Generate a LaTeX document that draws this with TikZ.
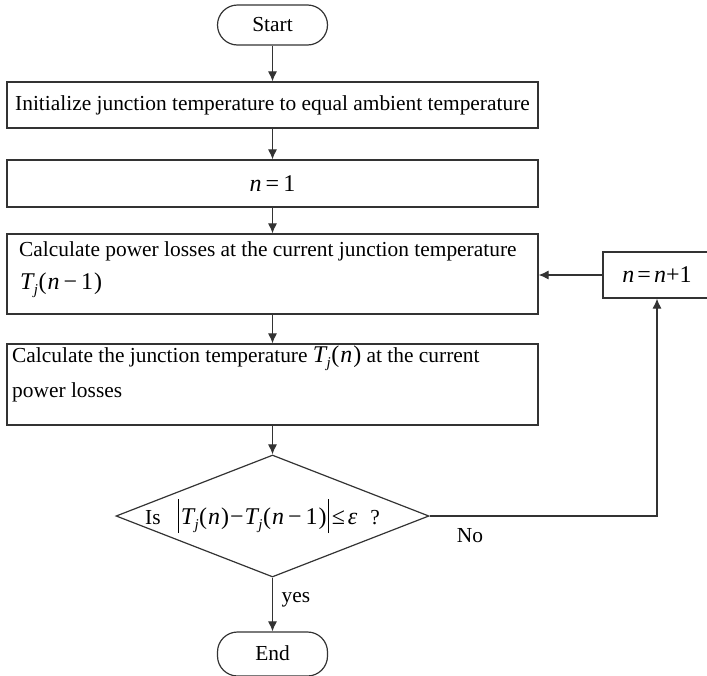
\documentclass[tikz,border=0pt]{standalone}
\usepackage{fontspec}
\setmainfont{Liberation Serif}
\usetikzlibrary{arrows.meta,shapes.geometric}
\definecolor{ln}{HTML}{333333}
\newcommand\mf{\fontsize{24}{25}\selectfont}
\newcommand\mv[1]{{\mf\textit{#1}}}
\newcommand\Tj{{\mf\textit{T}\kern-1pt\raisebox{-5pt}{\fontsize{15}{15}\selectfont\textit{j}}\kern0.5pt}}
\newcommand\mmin{{\mf\kern4pt−\kern4pt}}
\newcommand\po{{\mf(\kern1pt}}
\newcommand\pc{{\mf\kern1pt)}}
\newcommand\vbr{\rule[-9pt]{1.1pt}{34pt}}
\begin{document}
\begin{tikzpicture}[x=1pt,y=-1pt,font=\fontsize{21.4}{25}\selectfont,
  box/.style={draw=ln,line width=1.2pt,minimum width=531pt,inner sep=0pt},
  term/.style={draw=ln,line width=1.2pt,rounded corners=20pt,minimum width=110pt,minimum height=40pt,inner sep=0pt},
  arr/.style={draw=ln,line width=1.1pt,-{Latex[length=10pt,width=9pt]}},
  lbl/.style={inner sep=0pt,anchor=west}]
\useasboundingbox (0,0) rectangle (707,675);
\node[term] (start) at (272.5,25) {Start};
\node[box,minimum height=46pt] (b1) at (272.5,105) {Initialize junction temperature to equal ambient temperature};
\node[box,minimum height=47pt] (b2) at (272.5,183.5) {\mv{n}{\mf\kern4pt=\kern4pt1}};
\node[box,minimum height=80pt] (b3) at (272.5,274) {};
\node[lbl] (t3a) at (19,251) {Calculate power losses at the current junction temperature};
\node[lbl] (t3b) at (20,285) {\Tj\po\mv{n}\mmin{\mf1}\pc};
\node[box,minimum height=81pt] (b4) at (272.5,384.5) {};
\node[lbl] (t4a) at (12,358) {Calculate the junction temperature \Tj\po\mv{n}\pc{} at the current};
\node[lbl] (t4b) at (12,392) {power losses};
\node[draw=ln,line width=1.2pt,diamond,minimum width=313pt,minimum height=122pt,inner sep=0pt] (dec) at (272.5,516) {};
\node[lbl] (dtext) at (145,516) {Is\hspace{17pt}\vbr\kern2pt\Tj\po\mv{n}\pc{\mf\kern1pt−\kern1pt}\Tj\po\mv{n}\mmin{\mf1}\pc\kern1pt\vbr\kern3pt{\mf≤}\kern3pt\mv{ε}\hspace{13pt}?};
\node[box,minimum width=108pt,minimum height=46pt] (nb) at (657,275) {\mv{n}{\mf\kern3pt=\kern3pt}\mv{n}{\mf+1}};
\node[term,minimum height=44pt] (end) at (272.5,654) {\raisebox{2pt}{End}};
\node[inner sep=0pt] (no) at (470,536) {No};
\node[inner sep=0pt] (yes) at (296,600) {yes};
\draw[arr] (start) -- (b1);
\draw[arr] (b1) -- (b2);
\draw[arr] (b2) -- (b3);
\draw[arr] (b3) -- (b4);
\draw[arr] (b4) -- (dec);
\draw[arr] (dec) -- (end);
\draw[arr] (dec.east) -| (nb.south);
\draw[arr] (nb.west) -- (nb.west -| b3.east);
\end{tikzpicture}
\end{document}
